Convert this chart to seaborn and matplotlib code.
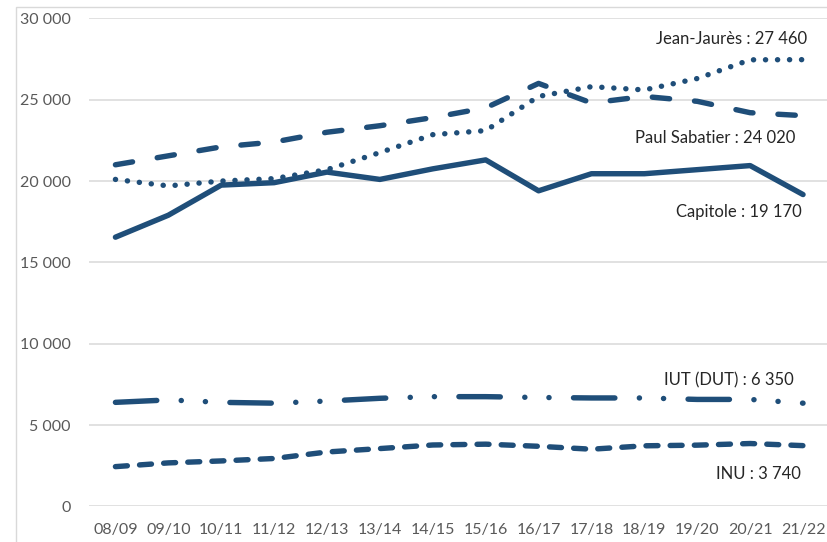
import matplotlib
matplotlib.use("Agg")
import matplotlib.pyplot as plt
import seaborn as sns
import pandas as pd
from matplotlib.patches import Rectangle

# Données (effectifs étudiants)
annees = ["08/09", "09/10", "10/11", "11/12", "12/13", "13/14", "14/15",
          "15/16", "16/17", "17/18", "18/19", "19/20", "20/21", "21/22"]
capitole = [16550, 17900, 19750, 19900, 20550, 20100, 20750,
            21300, 19400, 20450, 20450, 20700, 20950, 19170]
jean_jaures = [20100, 19700, 20000, 20150, 20700, 21750, 22850,
               23100, 25200, 25800, 25600, 26300, 27450, 27460]
paul_sabatier = [21000, 21550, 22100, 22400, 23000, 23400, 23900,
                 24500, 26000, 24800, 25200, 24900, 24200, 24020]
iut = [6400, 6550, 6400, 6350, 6480, 6650, 6750,
       6750, 6700, 6670, 6670, 6580, 6580, 6350]
inu = [2450, 2680, 2800, 2950, 3350, 3560, 3780,
       3830, 3700, 3520, 3730, 3770, 3870, 3740]

noms = ["Jean-Jaurès", "Paul Sabatier", "Capitole", "IUT (DUT)", "INU"]
series = [jean_jaures, paul_sabatier, capitole, iut, inu]

# Style
BLEU = "#1F4E79"
sns.set_style("white")
plt.rcParams["font.family"] = ["Lato", "DejaVu Sans"]
plt.rcParams["lines.scale_dashes"] = False
plt.rcParams["lines.dash_capstyle"] = "round"
plt.rcParams["lines.solid_capstyle"] = "round"
plt.rcParams["lines.dash_joinstyle"] = "round"
plt.rcParams["lines.solid_joinstyle"] = "round"

tirets = {
    "Jean-Jaurès": (0.1, 8.55),
    "Paul Sabatier": (12.5, 18),
    "Capitole": "",
    "IUT (DUT)": (29.8, 17.6, 0.1, 17.3, 0.1, 17.6),
    "INU": (8.6, 8.8),
}

# DataFrame au format long
lignes = []
for nom, valeurs in zip(noms, series):
    for i, v in enumerate(valeurs):
        lignes.append({"serie": nom, "idx": i, "valeur": v})
df = pd.DataFrame(lignes)

fig = plt.figure(figsize=(8.27, 5.42), dpi=100)
ax = fig.add_axes([0.1076, 0.0655, 0.8954, 0.9007])

sns.lineplot(data=df, x="idx", y="valeur", hue="serie", style="serie",
             palette={n: BLEU for n in noms}, dashes=tirets,
             linewidth=3.9, legend=False, sort=False, ax=ax)

ax.set_xlim(-0.5, len(annees) - 0.5)
ax.set_ylim(0, 30000)
ax.set_xticks(range(len(annees)))
ax.set_xticklabels(annees)
ax.set_yticks(range(0, 30001, 5000))
ax.set_yticklabels([f"{v:,}".replace(",", " ") for v in range(0, 30001, 5000)])
ax.set_xlabel("")
ax.set_ylabel("")
for s in ax.spines.values():
    s.set_visible(False)
ax.yaxis.grid(True, color="#D9D9D9", linewidth=1.1)
ax.xaxis.grid(False)
ax.set_axisbelow(True)
ax.tick_params(axis="y", length=0, pad=13, labelsize=11.5, labelcolor="#595959")
ax.tick_params(axis="x", length=0, pad=12, labelsize=11.5, labelcolor="#595959")

# Étiquettes en fin de courbe
decalages = {
    "Jean-Jaurès": (2.7, 14.9),
    "Paul Sabatier": (-5.8, -16.3),
    "Capitole": (-1, -12.3),
    "IUT (DUT)": (-6.5, 16.2),
    "INU": (-1.7, -20.4),
}
for nom, valeurs in zip(noms, series):
    dernier = valeurs[-1]
    texte = f"{nom} : " + f"{dernier:,}".replace(",", " ")
    ax.annotate(texte, xy=(len(annees) - 1, dernier),
                xytext=decalages[nom], textcoords="offset points",
                ha="right", va="center", fontsize=12, color="#262626")

# Cadre de la zone de graphique (coupé)
fig.add_artist(Rectangle((15.5 / 827, -0.1), 1.2, (542 - 6.5) / 542 + 0.1,
                         transform=fig.transFigure, fill=False,
                         edgecolor="#D9D9D9", linewidth=1))

fig.savefig("out.png", dpi=100)
